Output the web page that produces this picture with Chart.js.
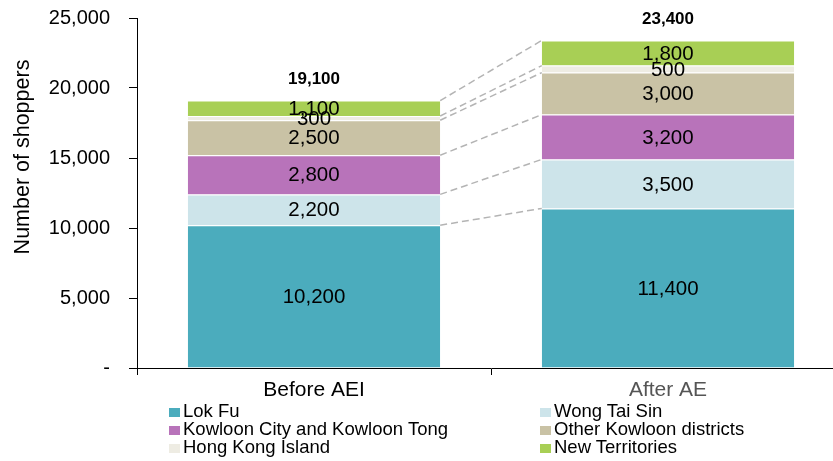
<!DOCTYPE html>
<html>
<head>
<meta charset="utf-8">
<script src="https://cdn.jsdelivr.net/npm/chart.js@4.4.1/dist/chart.umd.min.js"></script>
<style>
  html, body { margin: 0; padding: 0; background: #fff; }
  #wrap { position: relative; width: 833px; height: 461px; overflow: hidden; }
  #wrap canvas { position: absolute; left: 0; top: 0; }
  #legend {
    position: absolute; left: 169px; top: 402px;
    display: grid; grid-template-columns: 371px 280px;
    font-family: "Liberation Sans", Arial, sans-serif; font-size: 18.5px; color: #000;
  }
  #legend div { line-height: 18px; height: 18px; white-space: nowrap; }
  #legend span { display: inline-block; width: 11px; height: 9px; margin-right: 3px; vertical-align: 0px; }
</style>
</head>
<body>
<div id="wrap">
  <canvas id="myChart" width="850" height="461"></canvas>
  <div id="legend"></div>
</div>
<script>
var periods = ['Before AEI', 'After AE']
var districts = ['Lok Fu', 'Wong Tai Sin', 'Kowloon City and Kowloon Tong', 'Other Kowloon districts', 'Hong Kong Island', 'New Territories']
var lokFu = [10200, 11400]
var wongTaiSin = [2200, 3500]
var kowloonCity = [2800, 3200]
var otherKowloon = [2500, 3000]
var hkIsland = [300, 500]
var newTerritories = [1100, 1800]
var yTicks = [0, 5000, 10000, 15000, 20000, 25000]

var colors = ['#4bacbd', '#cde4ea', '#b873ba', '#c9c2a5', '#eeece3', '#a8cf55']
var series = [lokFu, wongTaiSin, kowloonCity, otherKowloon, hkIsland, newTerritories]
var font = '"Liberation Sans", Arial, sans-serif'

function fmt(v){ return v.toLocaleString('en-US') }

var datasets = []
series.forEach(function(vals, i){
    datasets.push({
        label: districts[i],
        data: vals,
        backgroundColor: colors[i],
        borderColor: '#fff',
        borderWidth: {top: 1, bottom: 0, left: 0, right: 0},
        borderSkipped: false,
        barPercentage: 0.713,
        categoryPercentage: 1
    })
})

// value labels, totals, dashed connectors and the y axis title
var extras = {
    id: 'extras',
    afterDatasetsDraw: function(chart){
        var ctx = chart.ctx
        var y = chart.scales.y
        ctx.save()

        // dashed lines joining segment tops of the two bars
        ctx.strokeStyle = '#b4b4b4'
        ctx.lineWidth = 1.5
        ctx.setLineDash([7, 4])
        chart.data.datasets.forEach(function(ds, i){
            var a = chart.getDatasetMeta(i).data[0]
            var b = chart.getDatasetMeta(i).data[1]
            ctx.beginPath()
            ctx.moveTo(a.x + a.width / 2, a.y)
            ctx.lineTo(b.x - b.width / 2, b.y)
            ctx.stroke()
        })
        ctx.setLineDash([])

        ctx.fillStyle = '#000'
        ctx.textAlign = 'center'
        ctx.textBaseline = 'middle'
        ctx.font = '20.5px ' + font
        chart.data.datasets.forEach(function(ds, i){
            chart.getDatasetMeta(i).data.forEach(function(bar, j){
                ctx.fillText(fmt(ds.data[j]), bar.x, (bar.y + bar.base) / 2 + 1)
            })
        })

        ctx.font = 'bold 17px ' + font
        periods.forEach(function(p, j){
            var total = 0
            series.forEach(function(s){ total += s[j] })
            var x = chart.getDatasetMeta(0).data[j].x
            ctx.fillText(fmt(total), x, y.getPixelForValue(total) - 21.5)
        })

        ctx.translate(23, 157)
        ctx.rotate(-Math.PI / 2)
        ctx.font = '21.5px ' + font
        ctx.fillText('Number of shoppers', 0, 0)
        ctx.restore()
    }
}

var chart = new Chart(document.getElementById('myChart').getContext('2d'), {
    type: 'bar',
    data: { labels: periods, datasets: datasets },
    options: {
        responsive: false,
        animation: false,
        layout: { padding: { top: 18, right: 5, left: 0, bottom: 0 } },
        plugins: { legend: { display: false }, tooltip: { enabled: false } },
        scales: {
            x: {
                stacked: true,
                border: { color: '#000', width: 1 },
                grid: { drawOnChartArea: false, drawTicks: true, tickLength: 7, color: '#000' },
                ticks: {
                    padding: 3,
                    font: { family: font, size: 21 },
                    color: function(c){ return c.index === 1 ? '#555' : '#000' }
                },
                afterFit: function(scale){ scale.height = 93 }
            },
            y: {
                stacked: true,
                min: 0,
                max: 25000,
                border: { color: '#000', width: 1 },
                grid: { drawOnChartArea: false, drawTicks: true, tickLength: 8, color: '#000' },
                afterBuildTicks: function(scale){ scale.ticks = yTicks.map(function(v){ return {value: v} }) },
                ticks: {
                    padding: 19,
                    font: { family: font, size: 20 },
                    color: '#000',
                    callback: function(v){ return v === 0 ? '-' : fmt(v) }
                },
                afterFit: function(scale){
                    scale.width = 137
                    scale.paddingTop = 0
                    scale.paddingBottom = 0
                }
            }
        }
    },
    plugins: [extras]
})

var legendItems = [0, 1, 2, 3, 4, 5].map(function(i){
    return '<div><span style="background:' + colors[i] + '"></span>' + districts[i] + '</div>'
})
document.getElementById('legend').innerHTML = legendItems.join('')
</script>
</body>
</html>
